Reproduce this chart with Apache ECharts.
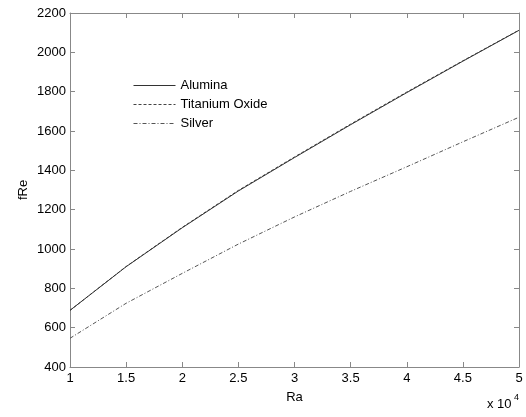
<!DOCTYPE html>
<html>
<head>
<meta charset="utf-8">
<script src="https://cdn.jsdelivr.net/npm/echarts@6/dist/echarts.min.js"></script>
<style>html,body{margin:0;padding:0;background:#fff;}#c{width:526px;height:417px;}</style>
</head>
<body>
<div id="c"></div>
<script>
const raValues = [1, 1.5, 2, 2.5, 3, 3.5, 4, 4.5, 5];
const alumina = [688, 910, 1108, 1295, 1465, 1632, 1795, 1955, 2112];
const titaniumOxide = [688, 911, 1110, 1298, 1468, 1635, 1798, 1957, 2113];
const silver = [546, 724, 876, 1025, 1163, 1293, 1418, 1545, 1670];
const seriesNames = ['Alumina', 'Titanium Oxide', 'Silver'];

const font = 'Liberation Sans, Arial, Helvetica, sans-serif';
const axisColor = '#888';
function pairs(ys){ return raValues.map((x,i)=>[x, ys[i]]); }

const chart = echarts.init(document.getElementById('c'), null, {renderer:'canvas'});
const baseAxis = {
  axisLine:{show:true, onZero:false, lineStyle:{color:axisColor, width:1}},
  axisTick:{show:true, inside:true, length:5, lineStyle:{color:axisColor}},
  splitLine:{show:false},
};
chart.setOption({
  animation:false,
  backgroundColor:'#fff',
  grid:{left:70, right:7, top:13, bottom:50, containLabel:false},
  legend:{
    orient:'vertical', left:133, top:79, padding:0, itemWidth:42, itemHeight:10, itemGap:6,
    itemStyle:{opacity:0},
    lineStyle:{width:1},
    textStyle:{fontFamily:font, fontSize:13, color:'#000'},
    data:seriesNames
  },
  xAxis:[
    Object.assign({}, baseAxis, {type:'value', min:1, max:5, interval:0.5, position:'bottom',
      name:'Ra', nameLocation:'middle', nameGap:24,
      nameTextStyle:{fontFamily:font, fontSize:13, color:'#000'},
      axisLabel:{fontFamily:font, fontSize:13, color:'#000', margin:5}}),
    Object.assign({}, baseAxis, {type:'value', min:1, max:5, interval:0.5, position:'top',
      axisLabel:{show:false}})
  ],
  yAxis:[
    Object.assign({}, baseAxis, {type:'value', min:400, max:2200, interval:200, position:'left',
      name:'fRe', nameLocation:'middle', nameGap:40, nameRotate:90, nameMoveOverlap:false,
      nameTextStyle:{fontFamily:font, fontSize:13, color:'#000'},
      axisLabel:{fontFamily:font, fontSize:13, color:'#000', margin:4, formatter:(v)=>String(v)}}),
    Object.assign({}, baseAxis, {type:'value', min:400, max:2200, interval:200, position:'right',
      axisLabel:{show:false}})
  ],
  graphic:[
    {type:'text', left:487, top:398, style:{text:'x 10', font:'13px ' + font, fill:'#000'}},
    {type:'text', left:514, top:393, style:{text:'4', font:'9px ' + font, fill:'#000'}}
  ],
  series:[
    {name:seriesNames[0], type:'line', data:pairs(alumina), symbol:'none', z:3,
      lineStyle:{color:'#333', width:1, type:'solid'}, itemStyle:{color:'#333'}},
    {name:seriesNames[1], type:'line', data:pairs(titaniumOxide), symbol:'none', z:2,
      lineStyle:{color:'#444', width:1, type:[3,2]}, itemStyle:{color:'#444'}},
    {name:seriesNames[2], type:'line', data:pairs(silver), symbol:'none', z:2,
      lineStyle:{color:'#555', width:1, type:[4,2,1,2]}, itemStyle:{color:'#555'}}
  ]
});
</script>
</body>
</html>
